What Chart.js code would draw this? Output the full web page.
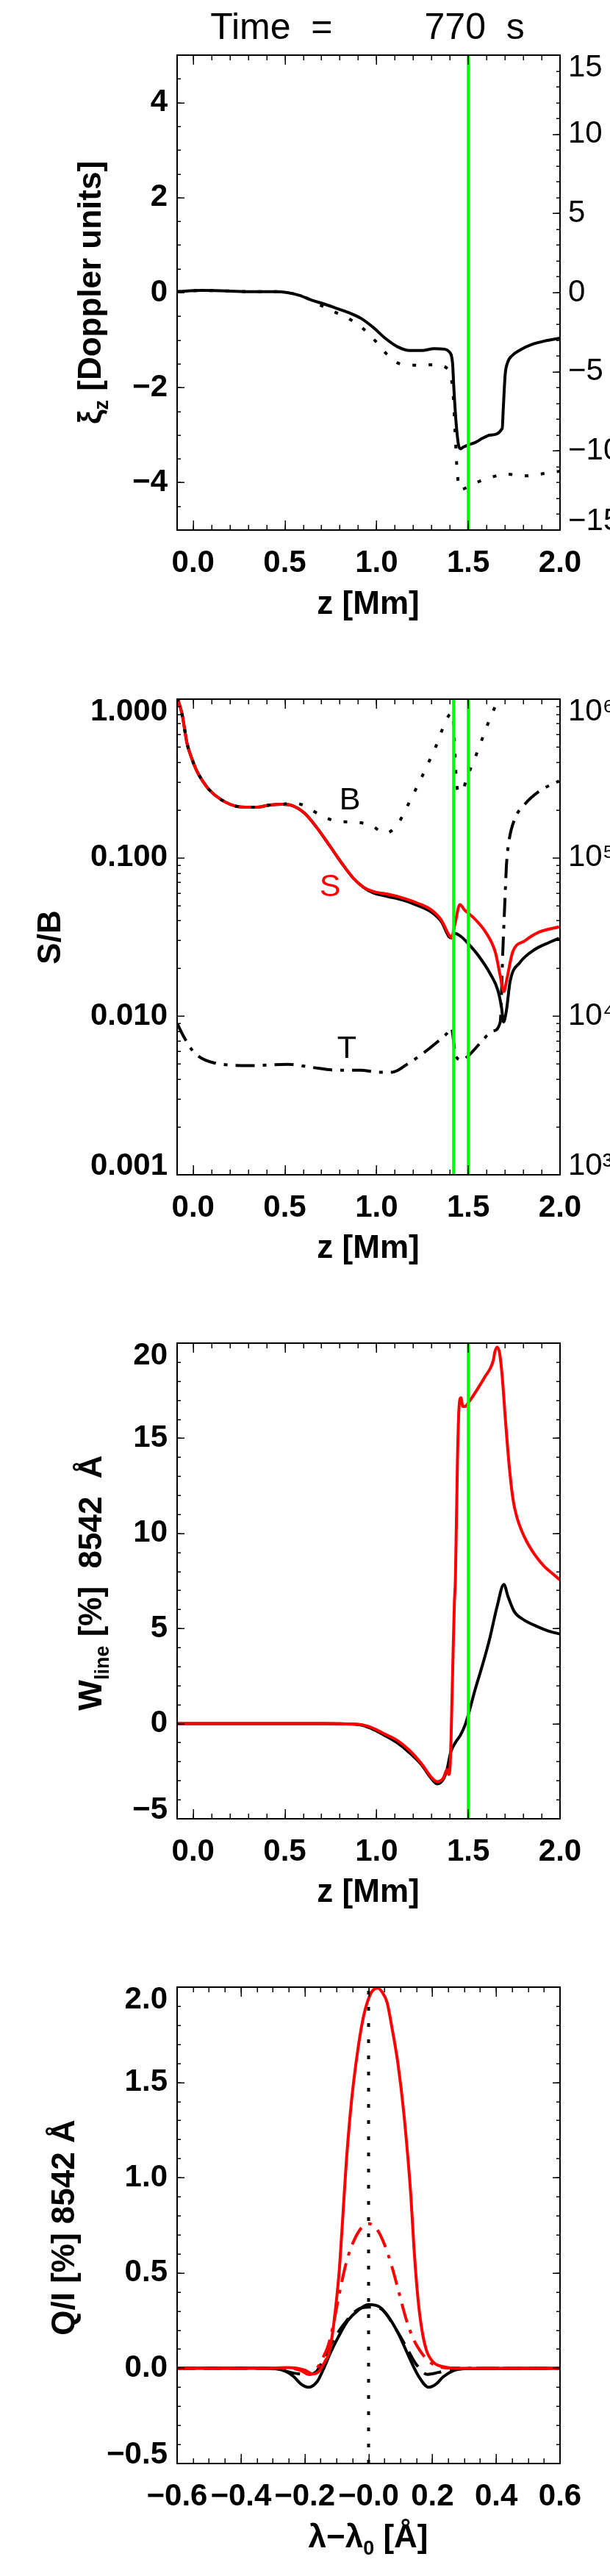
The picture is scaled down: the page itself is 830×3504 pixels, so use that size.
<!DOCTYPE html>
<html>
<head>
<meta charset="utf-8">
<script src="https://cdn.jsdelivr.net/npm/chart.js@4.4.1/dist/chart.umd.min.js"></script>
<style>
  body { margin: 0; background: #fff; }
  canvas { display: block; }
</style>
</head>
<body>
<canvas id="p1" width="830" height="876"></canvas>
<canvas id="p2" width="830" height="876"></canvas>
<canvas id="p3" width="830" height="876"></canvas>
<canvas id="p4" width="830" height="876"></canvas>
<script>
// ---- panel 1: vertical displacement xi_z vs height
const zXi = [-0.087, 0.047, 0.18, 0.314, 0.447, 0.514, 0.581, 0.647, 0.714, 0.781, 0.847, 0.914, 0.981, 1.047,
  1.114, 1.181, 1.248, 1.314, 1.368, 1.394, 1.414, 1.421, 1.434, 1.448, 1.458, 1.474, 1.498, 1.541, 1.576,
  1.621, 1.685, 1.690, 1.701, 1.714, 1.741, 1.781, 1.848, 1.915, 2.0]
const xiSolid = [0.02, 0.045, 0.035, 0.02, 0.02, 0.0, -0.06, -0.16, -0.24, -0.33, -0.42, -0.54, -0.73, -0.96,
  -1.14, -1.22, -1.22, -1.18, -1.19, -1.24, -1.475, -1.99, -2.76, -3.23, -3.29, -3.25, -3.21, -3.15, -3.07,
  -3.0, -2.86, -2.5, -1.73, -1.475, -1.32, -1.21, -1.09, -1.02, -0.96]
const zXiDot = [-0.087, 0.047, 0.18, 0.314, 0.447, 0.514, 0.601, 0.681, 0.767, 0.854, 0.927, 0.994, 1.054, 1.128,
  1.221, 1.314, 1.394, 1.414, 1.421, 1.425, 1.430, 1.434, 1.440, 1.454, 1.531, 1.624, 1.704, 1.797, 1.891, 1.984, 2.0]
const xiDotted = [0.02, 0.045, 0.035, 0.02, 0.02, 0.0, -0.084, -0.24, -0.40, -0.56, -0.76, -1.02, -1.29, -1.50,
  -1.53, -1.52, -1.63, -1.99, -2.35, -2.71, -3.07, -3.43, -3.79, -4.15, -4.02, -3.89, -3.82, -3.86, -3.82, -3.77, -3.76]

// ---- panel 2: S/B, B (dotted), T (dash-dot, right axis)
const zS = [-0.086, -0.060, -0.033, -0.006, 0.020, 0.047, 0.087, 0.154, 0.247, 0.340, 0.420, 0.487, 0.541, 0.607,
  0.674, 0.741, 0.807, 0.874, 0.927, 0.981, 1.061, 1.141, 1.221, 1.301, 1.354, 1.394, 1.408, 1.428, 1.454, 1.481,
  1.528, 1.594, 1.648, 1.674, 1.694, 1.708, 1.741, 1.808, 1.888, 1.995]
const sbRed = [1.02, 0.805, 0.527, 0.419, 0.353, 0.311, 0.269, 0.232, 0.210, 0.208, 0.215, 0.217, 0.213, 0.191,
  0.155, 0.1205, 0.0935, 0.0741, 0.0653, 0.0612, 0.0589, 0.0558, 0.0518, 0.0466, 0.0402, 0.0326, 0.0312, 0.0385,
  0.0506, 0.0466, 0.0419, 0.0340, 0.0252, 0.0180, 0.0143, 0.0166, 0.0252, 0.0299, 0.0340, 0.0366]
const zTot = [-0.086, -0.060, -0.033, -0.006, 0.020, 0.047, 0.087, 0.154, 0.247, 0.340, 0.420, 0.487, 0.541, 0.607,
  0.674, 0.741, 0.807, 0.874, 0.927, 0.981, 1.061, 1.141, 1.221, 1.301, 1.354, 1.394, 1.408, 1.428, 1.461, 1.501,
  1.554, 1.621, 1.661, 1.681, 1.692, 1.708, 1.728, 1.781, 1.861, 1.941, 1.995]
const sbBlack = [1.02, 0.805, 0.527, 0.419, 0.353, 0.311, 0.269, 0.232, 0.210, 0.208, 0.215, 0.217, 0.213, 0.191,
  0.155, 0.1205, 0.0935, 0.0741, 0.0653, 0.0600, 0.0569, 0.0541, 0.0501, 0.0452, 0.0394, 0.0318, 0.0312, 0.0333,
  0.0318, 0.0286, 0.0242, 0.0184, 0.0146, 0.0114, 0.0092, 0.0109, 0.0166, 0.0218, 0.0263, 0.0292, 0.0310]
const zB = [-0.086, -0.060, -0.033, -0.006, 0.020, 0.047, 0.087, 0.154, 0.247, 0.340, 0.420, 0.487, 0.541, 0.607,
  0.687, 0.781, 0.874, 0.967, 1.047, 1.114, 1.161, 1.201, 1.248, 1.288, 1.321, 1.354, 1.394, 1.414, 1.425, 1.434,
  1.448, 1.468, 1.494, 1.528, 1.561, 1.594, 1.628, 1.661, 1.688, 1.72]
const sbB = [1.02, 0.805, 0.527, 0.419, 0.353, 0.311, 0.269, 0.232, 0.210, 0.208, 0.215, 0.217, 0.222, 0.213,
  0.1875, 0.170, 0.1675, 0.1607, 0.1426, 0.1618, 0.204, 0.252, 0.325, 0.409, 0.495, 0.625, 0.789, 0.822, 0.527,
  0.318, 0.258, 0.263, 0.325, 0.401, 0.506, 0.638, 0.805, 0.953, 1.0, 1.25]
const zT = [-0.086, -0.046, 0.007, 0.114, 0.314, 0.514, 0.647, 0.781, 0.914, 1.007, 1.087, 1.167, 1.248, 1.328,
  1.381, 1.408, 1.428, 1.441, 1.468, 1.501, 1.568, 1.634, 1.674, 1.688, 1.701, 1.708, 1.721, 1.754, 1.808, 1.888, 1.995]
const tempT = [8970, 7260, 5890, 5080, 4880, 4980, 4760, 4570, 4570, 4440, 4440, 4980, 5770, 6830, 7740, 8430,
  5890, 5410, 5300, 5640, 6830, 8070, 9160, 25300, 58700, 89500, 125600, 176200, 217300, 263000, 304800]

// ---- panel 3: W_line
const zWb = [-0.087, 0.71, 0.91, 0.977, 1.043, 1.110, 1.177, 1.244, 1.297, 1.330, 1.364, 1.384, 1.404, 1.430,
  1.457, 1.484, 1.504, 1.537, 1.577, 1.617, 1.657, 1.694, 1.717, 1.750, 1.804, 1.870, 1.937, 2.0]
const wBlack = [0, 0, -0.06, -0.28, -0.61, -0.99, -1.51, -2.15, -2.86, -3.16, -2.92, -2.41, -1.51, -0.99,
  -0.61, -0.03, 0.6, 1.78, 3.07, 4.48, 6.16, 7.32, 6.67, 5.90, 5.45, 5.13, 4.87, 4.71]
const zWr = [-0.087, 0.71, 0.91, 0.977, 1.043, 1.110, 1.177, 1.244, 1.297, 1.330, 1.364, 1.384, 1.393, 1.401,
  1.414, 1.424, 1.430, 1.441, 1.450, 1.460, 1.470, 1.484, 1.500, 1.537, 1.590, 1.637, 1.644, 1.657, 1.670, 1.684,
  1.704, 1.724, 1.744, 1.764, 1.804, 1.857, 1.911, 1.964, 2.0]
const wRed = [0, 0, -0.04, -0.22, -0.54, -0.86, -1.38, -2.09, -2.80, -3.05, -2.86, -2.41, -2.67, -2.22,
  2.42, 6.29, 7.66, 13.84, 16.68, 17.13, 16.68, 16.68, 16.87, 17.39, 18.22, 19.12, 19.51, 19.79, 19.51, 18.35,
  15.77, 13.45, 11.78, 10.88, 9.85, 8.95, 8.30, 7.85, 7.55]

// ---- panel 4: Q/I profiles
const lamRed = [-0.6, -0.326, -0.25, -0.20, -0.175, -0.155, -0.135, -0.126, -0.115, -0.103, -0.092, -0.077, -0.069,
  -0.053, -0.034, -0.019, -0.004, 0.012, 0.0285, 0.042, 0.058, 0.073, 0.092, 0.111, 0.133, 0.142, 0.154, 0.165,
  0.181, 0.203, 0.242, 0.288, 0.6]
const qRed = [0, 0, 0.003, -0.01, -0.03, -0.015, 0.04, 0.07, 0.16, 0.32, 0.51, 0.894, 1.1, 1.41, 1.666, 1.82, 1.92,
  1.98, 1.995, 1.975, 1.92, 1.79, 1.60, 1.33, 0.894, 0.64, 0.38, 0.225, 0.096, 0.032, 0.006, 0, 0]
const lamRedDD = [-0.6, -0.249, -0.211, -0.188, -0.165, -0.142, -0.126, -0.111, -0.096, -0.073, -0.057, -0.027, 0,
  0.027, 0.050, 0.073, 0.096, 0.119, 0.142, 0.165, 0.188, 0.211, 0.250, 0.6]
const qRedDD = [0, 0, -0.013, -0.032, -0.007, 0.058, 0.122, 0.225, 0.354, 0.534, 0.624, 0.727, 0.759, 0.727, 0.649,
  0.534, 0.392, 0.251, 0.148, 0.083, 0.038, 0.013, 0.002, 0]
const lamBlack = [-0.6, -0.326, -0.295, -0.264, -0.234, -0.211, -0.188, -0.161, -0.142, -0.119, -0.096, -0.065,
  -0.034, 0, 0.035, 0.065, 0.096, 0.127, 0.158, 0.188, 0.211, 0.234, 0.265, 0.303, 0.6]
const qBlack = [0, 0.001, -0.002, -0.013, -0.045, -0.084, -0.1, -0.07, -0.007, 0.083, 0.16, 0.25, 0.302, 0.334,
  0.321, 0.263, 0.173, 0.058, -0.045, -0.1, -0.084, -0.045, -0.013, -0.002, 0]
const lamDash = [-0.6, -0.326, -0.280, -0.234, -0.188, -0.165, -0.142, -0.115, -0.080, -0.034, 0, 0.035, 0.088,
  0.119, 0.150, 0.184, 0.219, 0.257, 0.364, 0.6]
const qDash = [0, 0, -0.007, -0.026, -0.032, -0.02, 0.045, 0.135, 0.225, 0.308, 0.321, 0.315, 0.199, 0.109,
  0.019, -0.032, -0.022, -0.007, 0, 0]

// markers
const zMark1 = [1.5]
const zMark2 = [1.42, 1.5]
const lamCentre = [0]

// tick labels
const zTicks = [0, 0.5, 1, 1.5, 2]
const zLabels = ['0.0', '0.5', '1.0', '1.5', '2.0']
const xiTicks = [-4, -2, 0, 2, 4]
const xiLabels = ['\u22124', '\u22122', '0', '2', '4']
const velTicks = [-15, -10, -5, 0, 5, 10, 15]
const velLabels = ['\u221215', '\u221210', '\u22125', '0', '5', '10', '15']
const sbTicks = [0.001, 0.01, 0.1, 1]
const sbLabels = ['0.001', '0.010', '0.100', '1.000']
const tempTicks = [1e3, 1e4, 1e5, 1e6]
const tempLabels = ['10\u00b3', '10\u2074', '10\u2075', '10\u2076']
const wTicks = [-5, 0, 5, 10, 15, 20]
const wLabels = ['\u22125', '0', '5', '10', '15', '20']
const qTicks = [-0.5, 0, 0.5, 1, 1.5, 2]
const qLabels = ['\u22120.5', '0.0', '0.5', '1.0', '1.5', '2.0']
const lamTicks = [-0.6, -0.4, -0.2, 0, 0.2, 0.4, 0.6]
const lamLabels = ['\u22120.6', '\u22120.4', '\u22120.2', '\u22120.0', '0.2', '0.4', '0.6']

const FONT = "'Liberation Sans', Arial, sans-serif"
const RED = '#ff0000', BLACK = '#000000', GREEN = '#00ff00'
const DOT = [5, 17], DASH = [24, 12], DASHDOT = [26, 11, 5, 11]

Chart.defaults.animation = false
Chart.defaults.font.family = FONT
Chart.defaults.color = '#000'

function steps(from, to, step){
    const out = []
    for (let v = from; v <= to + step / 1000; v += step) out.push(+v.toFixed(6))
    return out
}
function logMinor(d0, d1){
    const out = []
    for (let d = d0; d < d1; d++) for (let k = 2; k < 10; k++) out.push(k * 10 ** d)
    return out
}

function curve(xs, ys, color, dash, order, yAxisID){
    return {
        data: xs.map((x, i) => ({x: x, y: ys[i]})),
        borderColor: color, borderWidth: 4, borderDash: dash,
        borderJoinStyle: 'round', borderCapStyle: 'butt',
        pointRadius: 0, cubicInterpolationMode: 'monotone',
        clip: 0, order: order, yAxisID: yAxisID || 'y', fill: false
    }
}
function vline(x, y0, y1, color, dash, order){
    return {
        data: [{x: x, y: y0}, {x: x, y: y1}],
        borderColor: color, borderWidth: 4, borderDash: dash, borderCapStyle: 'butt',
        pointRadius: 0, clip: 0, order: order, yAxisID: 'y', fill: false
    }
}

// vertical axes keep their end labels inside the frame, like IDL does:
// the top label drops ~17px, the bottom one rises ~12px (done with a blank second line)
function axis(type, position, min, max, values, labels, size, opts){
    const vertical = position !== 'bottom'
    const last = values.length - 1
    const atTop = i => vertical && i === last && values[i] === max
    const atBottom = i => vertical && i === 0 && values[i] === min
    return {
        type: type, position: position, min: min, max: max,
        grid: {display: false, drawTicks: false},
        border: {display: false},
        afterBuildTicks: s => { s.ticks = values.map(v => ({value: v})) },
        afterFit: s => { if (position === 'bottom') s.height = size; else s.width = size },
        ticks: {
            display: labels.length > 0,
            autoSkip: false, maxRotation: 0, minRotation: 0,
            padding: opts.padding,
            font: c => ({
                family: FONT, size: 42, weight: opts.weight || 'bold',
                lineHeight: atTop(c.index) ? '34px' : atBottom(c.index) ? '24px' : 1.2
            }),
            color: '#000',
            callback: (v, i) => atTop(i) ? ['', labels[i]] : atBottom(i) ? [labels[i], ''] : labels[i]
        }
    }
}

// IDL style box with inward major/minor ticks on every side, plus the hand-set texts
const frame = {
    id: 'frame',
    afterDatasetsDraw(chart, args, opts){
        const ctx = chart.ctx, a = chart.chartArea
        ctx.save()
        ctx.strokeStyle = '#000'
        ctx.lineWidth = 1.5
        for (const t of opts.ticks){
            const s = chart.scales[t.scale]
            for (const v of t.values){
                const p = Math.round(s.getPixelForValue(v)) + 0.25
                for (const side of t.sides){
                    ctx.beginPath()
                    if (side === 'bottom'){ ctx.moveTo(p, a.bottom); ctx.lineTo(p, a.bottom - t.len) }
                    if (side === 'top'){ ctx.moveTo(p, a.top); ctx.lineTo(p, a.top + t.len) }
                    if (side === 'left'){ ctx.moveTo(a.left, p); ctx.lineTo(a.left + t.len, p) }
                    if (side === 'right'){ ctx.moveTo(a.right, p); ctx.lineTo(a.right - t.len, p) }
                    ctx.stroke()
                }
            }
        }
        ctx.lineWidth = 2
        ctx.strokeRect(a.left, a.top, a.right - a.left, a.bottom - a.top)
        ctx.restore()
    },
    afterDraw(chart, args, opts){
        const ctx = chart.ctx
        for (const t of opts.texts){
            ctx.save()
            ctx.translate(t.x, t.y)
            if (t.rot) ctx.rotate(t.rot)
            ctx.fillStyle = t.color || '#000'
            ctx.textBaseline = 'alphabetic'
            ctx.textAlign = 'left'
            const fontOf = r => `${t.weight || 'bold'} ${r.sub ? Math.round(t.size * 0.62) : t.size}px ${FONT}`
            const widths = t.runs.map(r => { ctx.font = fontOf(r); return ctx.measureText(r.t).width })
            let x = -widths.reduce((s, w) => s + w, 0) / 2
            t.runs.forEach((r, i) => {
                ctx.font = fontOf(r)
                ctx.fillText(r.t, x, r.sub ? t.size * 0.22 : 0)
                x += widths[i]
            })
            ctx.restore()
        }
    }
}

function panel(id, cfg){
    return new Chart(document.getElementById(id), {
        type: 'line',
        data: {datasets: cfg.datasets},
        options: {
            responsive: false,
            events: [],
            layout: {padding: {top: 75, left: 0, right: 0, bottom: 0}},
            scales: cfg.scales,
            plugins: {
                legend: {display: false},
                tooltip: {enabled: false},
                frame: {ticks: cfg.ticks, texts: cfg.texts}
            }
        },
        plugins: [frame]
    })
}

const UP = -Math.PI / 2
const zMinorTicks = {scale: 'x', values: steps(0, 2, 0.1), len: 7, sides: ['bottom', 'top']}
const zMajorTicks = {scale: 'x', values: zTicks, len: 13, sides: ['bottom', 'top']}
const zTitle = {runs: [{t: 'z [Mm]'}], x: 501, y: 835, size: 44}

panel('p1', {
    datasets: [
        ...zMark1.map(z => vline(z, -5, 5, GREEN, [], 0)),
        curve(zXi, xiSolid, BLACK, [], 1),
        curve(zXiDot, xiDotted, BLACK, DOT, 2)
    ],
    scales: {
        x: axis('linear', 'bottom', -0.087, 2, zTicks, zLabels, 155, {padding: 20}),
        y: axis('linear', 'left', -5, 5, xiTicks, xiLabels, 241, {padding: 13}),
        y2: axis('linear', 'right', -15, 15, velTicks, velLabels, 68, {padding: 11, weight: 'normal'})
    },
    ticks: [
        zMinorTicks, zMajorTicks,
        {scale: 'y', values: steps(-4.5, 4.5, 0.5), len: 5, sides: ['left']},
        {scale: 'y', values: xiTicks, len: 10, sides: ['left']},
        {scale: 'y2', values: steps(-14, 14, 1), len: 5, sides: ['right']},
        {scale: 'y2', values: velTicks, len: 10, sides: ['right']}
    ],
    texts: [
        {runs: [{t: 'Time  =         770  s'}], x: 500, y: 53, size: 50, weight: 'normal'},
        {runs: [{t: '\u03be'}, {t: 'z', sub: true}, {t: ' [Doppler units]'}], x: 137, y: 398, rot: UP, size: 44},
        zTitle
    ]
})

panel('p2', {
    datasets: [
        ...zMark2.map(z => vline(z, 0.001, 1, GREEN, [], 0)),
        curve(zB, sbB, BLACK, DOT, 1),
        curve(zS, sbRed, RED, [], 2),
        curve(zT, tempT, BLACK, DASHDOT, 3, 'y2'),
        curve(zTot, sbBlack, BLACK, [], 4)
    ],
    scales: {
        x: axis('linear', 'bottom', -0.087, 2, zTicks, zLabels, 154, {padding: 20}),
        y: axis('logarithmic', 'left', 0.001, 1, sbTicks, sbLabels, 241, {padding: 13}),
        y2: axis('logarithmic', 'right', 1e3, 1e6, tempTicks, tempLabels, 68, {padding: 11, weight: 'normal'})
    },
    ticks: [
        zMinorTicks, zMajorTicks,
        {scale: 'y', values: logMinor(-3, 0), len: 5, sides: ['left']},
        {scale: 'y', values: sbTicks, len: 10, sides: ['left']},
        {scale: 'y2', values: logMinor(3, 6), len: 5, sides: ['right']},
        {scale: 'y2', values: tempTicks, len: 10, sides: ['right']}
    ],
    texts: [
        {runs: [{t: 'S/B'}], x: 82, y: 399, rot: UP, size: 44},
        {runs: [{t: 'B'}], x: 476, y: 225, size: 43, weight: 'normal'},
        {runs: [{t: 'S'}], x: 449, y: 343, size: 43, weight: 'normal', color: RED},
        {runs: [{t: 'T'}], x: 472, y: 563, size: 43, weight: 'normal'},
        zTitle
    ]
})

panel('p3', {
    datasets: [
        ...zMark1.map(z => vline(z, -5, 20, GREEN, [], 0)),
        curve(zWr, wRed, RED, [], 1),
        curve(zWb, wBlack, BLACK, [], 2)
    ],
    scales: {
        x: axis('linear', 'bottom', -0.087, 2, zTicks, zLabels, 154, {padding: 20}),
        y: axis('linear', 'left', -5, 20, wTicks, wLabels, 241, {padding: 13}),
        y2: axis('linear', 'right', -5, 20, [], [], 68, {padding: 11})
    },
    ticks: [
        zMinorTicks, zMajorTicks,
        {scale: 'y', values: steps(-4, 19, 1), len: 5, sides: ['left', 'right']},
        {scale: 'y', values: wTicks, len: 10, sides: ['left', 'right']}
    ],
    texts: [
        {runs: [{t: 'W'}, {t: 'line', sub: true}, {t: ' [%]  8542  \u00c5'}], x: 138, y: 401, rot: UP, size: 44},
        zTitle
    ]
})

panel('p4', {
    datasets: [
        ...lamCentre.map(l => vline(l, -0.5, 2, BLACK, DOT, 0)),
        curve(lamRed, qRed, RED, [], 1),
        curve(lamRedDD, qRedDD, RED, DASHDOT, 2),
        curve(lamBlack, qBlack, BLACK, [], 3),
        curve(lamDash, qDash, BLACK, DASH, 4)
    ],
    scales: {
        x: axis('linear', 'bottom', -0.6, 0.6, lamTicks, lamLabels, 153, {padding: 20}),
        y: axis('linear', 'left', -0.5, 2, qTicks, qLabels, 241, {padding: 13}),
        y2: axis('linear', 'right', -0.5, 2, [], [], 68, {padding: 11})
    },
    ticks: [
        {scale: 'x', values: steps(-0.55, 0.55, 0.05), len: 7, sides: ['bottom', 'top']},
        {scale: 'x', values: lamTicks, len: 13, sides: ['bottom', 'top']},
        {scale: 'y', values: steps(-0.4, 1.9, 0.1), len: 5, sides: ['left', 'right']},
        {scale: 'y', values: qTicks, len: 10, sides: ['left', 'right']}
    ],
    texts: [
        {runs: [{t: 'Q/I [%] 8542 \u00c5'}], x: 101, y: 402, rot: UP, size: 44},
        {runs: [{t: '\u03bb\u2212\u03bb'}, {t: '0', sub: true}, {t: ' [\u00c5]'}], x: 501, y: 837, size: 44}
    ]
})
</script>
</body>
</html>
